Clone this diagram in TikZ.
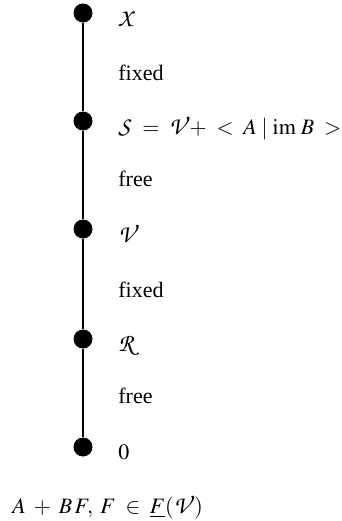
\documentclass[tikz,border=0pt]{standalone}
\usepackage{mathptmx}
\DeclareFontFamily{OT1}{pzcbig}{}
\DeclareFontShape{OT1}{pzcbig}{m}{it}{<-> s*[1.15] pzcmi7t}{}
\DeclareMathAlphabet{\mathcal}{OT1}{pzcbig}{m}{it}
\usepackage[no-math]{fontspec}
\setmainfont{Liberation Serif}
\usepackage{tikz}
\usetikzlibrary{positioning}
\tikzset{
  lat/dot/.style={circle, fill=black, inner sep=0pt, minimum size=9.5pt},
  lat/line/.style={line width=1pt},
  lat/label/.style={anchor=base west, inner sep=0pt},
  lat/rule/.style={anchor=base west, inner sep=0pt}
}

\begin{document}
\begin{tikzpicture}[x=0.5pt, y=-0.5pt, font=\fontsize{11}{13}\selectfont]
  \useasboundingbox (0,0) rectangle (342,521);
  % lattice of subspaces
  \node[lat/dot] (X) at (83,13) {};
  \node[lat/dot] (S) at (83,121) {};
  \node[lat/dot] (V) at (83,229) {};
  \node[lat/dot] (R) at (83,339) {};
  \node[lat/dot] (O) at (83,447) {};
  \draw[lat/line] (X) -- (S) -- (V) -- (R) -- (O);
  % labels of the points
  \node[lat/label] (lX) at (118,26) {$\mathcal{X}$};
  \node[lat/label] (lS) at (118,134) {$\mathcal{S}\;=\;\mathcal{V}{+}\;<\;A\;|\;\mathrm{im}\;B\;>$};
  \node[lat/label] (lV) at (118,242) {$\mathcal{V}$};
  \node[lat/label] (lR) at (118,351) {$\mathcal{R}$};
  \node[lat/label] (lO) at (118,459) {$0$};
  % labels of the intervals
  \node[lat/label] (iXS) at (118,80) {fixed};
  \node[lat/label] (iSV) at (118,186) {free};
  \node[lat/label] (iVR) at (118,297) {fixed};
  \node[lat/label] (iRO) at (118,403) {free};
  \node[lat/rule] (feed) at (12,513) {$A\;+\;B\,F,\;F\;\in\;\underline{F}(\mathcal{V})$};
\end{tikzpicture}
\end{document}
